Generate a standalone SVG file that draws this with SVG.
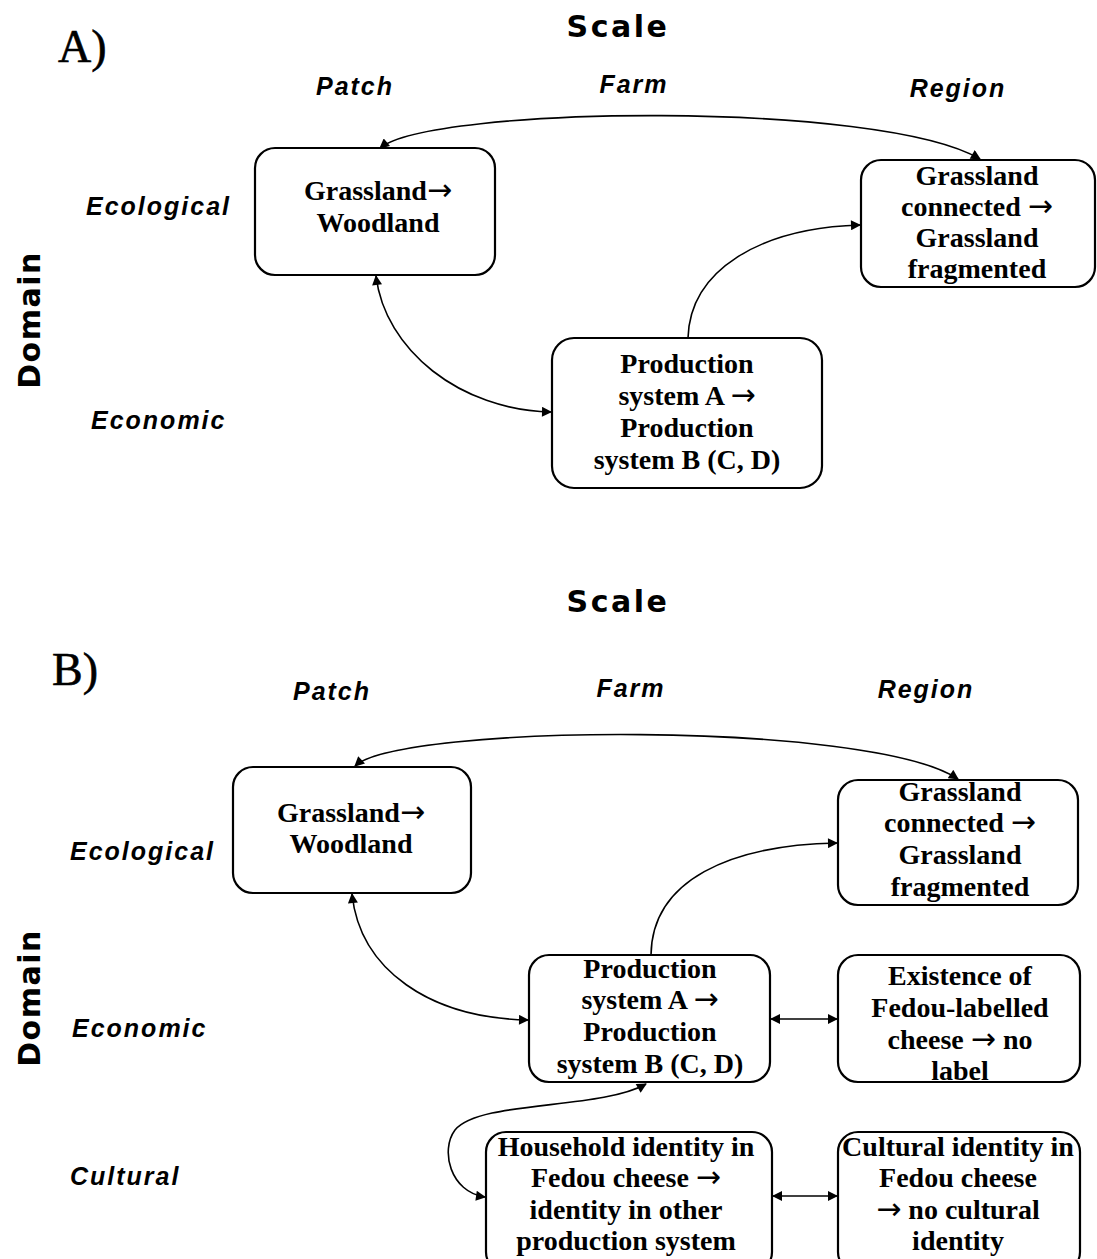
<svg xmlns="http://www.w3.org/2000/svg" width="1097" height="1259" viewBox="0 0 1097 1259">
<style>
.bg{fill:#fff}
.box{fill:#fff;stroke:#000;stroke-width:2.2}
.nt{font-family:"Liberation Serif","Times New Roman",serif;font-weight:bold;font-size:28px;fill:#000;text-anchor:middle}
.ar{font-family:"DejaVu Sans",sans-serif;font-weight:normal;font-size:30px}
.lab{font-family:"Liberation Sans",Arial,sans-serif;font-weight:bold;font-style:italic;font-size:25px;letter-spacing:2px;fill:#000}
.hd{font-family:"DejaVu Sans",sans-serif;font-weight:bold;font-size:30px;letter-spacing:2.5px;fill:#000;text-anchor:middle}
.pl{font-family:"Liberation Serif","Times New Roman",serif;font-size:46px;fill:#000;stroke:#000;stroke-width:0.6}
.c2{fill:none;stroke:#000;stroke-width:1.6;marker-end:url(#ah);marker-start:url(#ah)}
.c1{fill:none;stroke:#000;stroke-width:1.6;marker-end:url(#ah)}
</style>
<defs>
<marker id="ah" viewBox="0 0 10 10" refX="9" refY="5" markerWidth="11" markerHeight="10" markerUnits="userSpaceOnUse" orient="auto-start-reverse">
<path d="M0,0 L10,5 L0,10 z" fill="#000"/>
</marker>
</defs>
<rect class="bg" x="0" y="0" width="1097" height="1259"/>

<!-- Panel A labels -->
<g id="labels-a">
<text class="pl" x="58" y="62">A)</text>
<text class="hd" x="618" y="37">Scale</text>
<text class="lab" x="355" y="95" text-anchor="middle">Patch</text>
<text class="lab" x="634" y="93" text-anchor="middle">Farm</text>
<text class="lab" x="958" y="97" text-anchor="middle">Region</text>
<text class="lab" x="86" y="215">Ecological</text>
<text class="lab" x="91" y="429">Economic</text>
<text class="hd" transform="translate(40,320) rotate(-90)" x="0" y="0" style="letter-spacing:1.5px">Domain</text>
</g>

<!-- Panel A nodes -->
<g id="a-grassland-woodland">
<rect class="box" x="255" y="148" width="240" height="127" rx="20"/>
<text class="nt" x="378" y="200">Grassland<tspan class="ar">→</tspan></text>
<text class="nt" x="378" y="232">Woodland</text>
</g>
<g id="a-grassland-connected">
<rect class="box" x="861" y="160" width="234" height="127" rx="20"/>
<text class="nt" x="977" y="185">Grassland</text>
<text class="nt" x="977" y="216">connected <tspan class="ar">→</tspan></text>
<text class="nt" x="977" y="247">Grassland</text>
<text class="nt" x="977" y="278">fragmented</text>
</g>
<g id="a-production">
<rect class="box" x="552" y="338" width="270" height="150" rx="22"/>
<text class="nt" x="687" y="373">Production</text>
<text class="nt" x="687" y="405">system A <tspan class="ar">→</tspan></text>
<text class="nt" x="687" y="437">Production</text>
<text class="nt" x="687" y="469">system B (C, D)</text>
</g>

<!-- Panel B labels -->
<g id="labels-b">
<text class="pl" x="52" y="685">B)</text>
<text class="hd" x="618" y="612">Scale</text>
<text class="lab" x="332" y="700" text-anchor="middle">Patch</text>
<text class="lab" x="631" y="697" text-anchor="middle">Farm</text>
<text class="lab" x="926" y="698" text-anchor="middle">Region</text>
<text class="lab" x="70" y="860">Ecological</text>
<text class="lab" x="72" y="1037">Economic</text>
<text class="lab" x="70" y="1185">Cultural</text>
<text class="hd" transform="translate(40,998) rotate(-90)" x="0" y="0" style="letter-spacing:1.5px">Domain</text>
</g>

<!-- Panel B nodes -->
<g id="b-grassland-woodland">
<rect class="box" x="233" y="767" width="238" height="126" rx="20"/>
<text class="nt" x="351" y="822">Grassland<tspan class="ar">→</tspan></text>
<text class="nt" x="351" y="853">Woodland</text>
</g>
<g id="b-grassland-connected">
<rect class="box" x="838" y="780" width="240" height="125" rx="20"/>
<text class="nt" x="960" y="801">Grassland</text>
<text class="nt" x="960" y="832">connected <tspan class="ar">→</tspan></text>
<text class="nt" x="960" y="864">Grassland</text>
<text class="nt" x="960" y="896">fragmented</text>
</g>
<g id="b-production">
<rect class="box" x="529" y="955" width="241" height="127" rx="20"/>
<text class="nt" x="650" y="978">Production</text>
<text class="nt" x="650" y="1009">system A <tspan class="ar">→</tspan></text>
<text class="nt" x="650" y="1041">Production</text>
<text class="nt" x="650" y="1073">system B (C, D)</text>
</g>
<g id="b-fedou-label">
<rect class="box" x="838" y="955" width="242" height="127" rx="20"/>
<text class="nt" x="960" y="985">Existence of</text>
<text class="nt" x="960" y="1017">Fedou-labelled</text>
<text class="nt" x="960" y="1049">cheese <tspan class="ar">→</tspan> no</text>
<text class="nt" x="960" y="1080">label</text>
</g>
<g id="b-household">
<rect class="box" x="486" y="1132" width="286" height="140" rx="20"/>
<text class="nt" x="626" y="1156">Household identity in</text>
<text class="nt" x="626" y="1187">Fedou cheese <tspan class="ar">→</tspan></text>
<text class="nt" x="626" y="1219">identity in other</text>
<text class="nt" x="626" y="1250">production system</text>
</g>
<g id="b-cultural">
<rect class="box" x="838" y="1132" width="242" height="140" rx="20"/>
<text class="nt" x="958" y="1156">Cultural identity in</text>
<text class="nt" x="958" y="1187">Fedou cheese</text>
<text class="nt" x="958" y="1219"><tspan class="ar">→</tspan> no cultural</text>
<text class="nt" x="958" y="1250">identity</text>
</g>

<!-- Connectors -->
<g id="connectors">
<path class="c2" d="M 380 148 C 430 106, 880 100, 980 159"/>
<path class="c2" d="M 376 276 C 385 350, 460 410, 551 412"/>
<path class="c1" d="M 688 338 C 690 270, 760 228, 860 225"/>

<path class="c2" d="M 355 766 C 400 724, 870 720, 958 779"/>
<path class="c2" d="M 352 894 C 360 970, 430 1018, 528 1020"/>
<path class="c1" d="M 651 955 C 652 880, 730 845, 837 843"/>
<path class="c2" d="M 771 1019 L 837 1019"/>
<path class="c2" d="M 773 1196 L 837 1196"/>
<path class="c2" d="M 646 1084 C 600 1110, 480 1100, 455 1130 C 440 1150, 450 1192, 485 1197"/>
</g>
</svg>
